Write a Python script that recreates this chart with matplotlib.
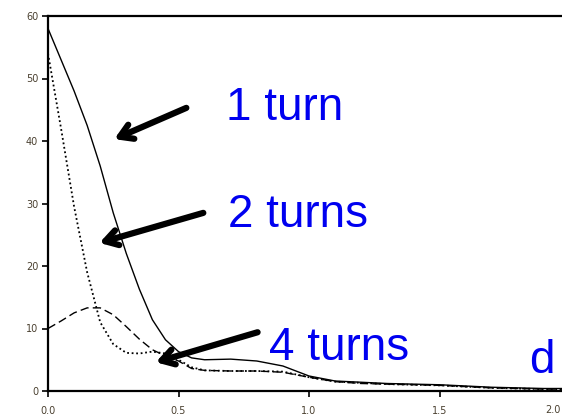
import numpy as np
import matplotlib.pyplot as plt

# distance grid and field curves
x_vals = [0.0, 0.05, 0.1, 0.15, 0.2, 0.25, 0.3, 0.35, 0.4, 0.45, 0.5, 0.55, 0.6,
          0.7, 0.8, 0.9, 1.0, 1.1, 1.2, 1.3, 1.4, 1.5, 1.6, 1.7, 1.8, 1.9, 2.0]
one_turn = [58, 53, 48, 42.5, 36, 28.5, 22, 16.3, 11.4, 8.2, 6.3, 5.3, 5.0,
            5.1, 4.8, 4.0, 2.4, 1.6, 1.4, 1.2, 1.1, 1.0, 0.8, 0.6, 0.5, 0.4, 0.4]
two_turns = [54, 42, 29.5, 19.0, 11.0, 7.5, 6.1, 6.0, 6.3, 6.0, 5.0, 3.8, 3.3,
             3.2, 3.2, 3.1, 2.2, 1.5, 1.3, 1.1, 1.0, 0.9, 0.7, 0.5, 0.4, 0.3, 0.3]
four_turns = [10, 11.2, 12.5, 13.3, 13.3, 12.2, 10.3, 8.3, 6.6, 5.6, 4.8, 3.6, 3.3,
              3.2, 3.2, 3.0, 2.2, 1.5, 1.2, 1.1, 1.0, 0.9, 0.7, 0.5, 0.4, 0.3, 0.3]
x_ticks = [0.0, 0.5, 1.0, 1.5, 2.0]
y_ticks = [0, 10, 20, 30, 40, 50, 60]

# labels: (text, x, y) and arrows: (tail, tip)
labels = [("1 turn", 0.682, 43.4), ("2 turns", 0.689, 26.2), ("4 turns", 0.848, 5.0), ("d", 1.845, 2.9)]
arrows = [((0.530, 45.3), (0.254, 40.3)),
          ((0.595, 28.5), (0.197, 23.7)),
          ((0.803, 9.4), (0.413, 4.6))]

tick_color = "#4a4030"

fig = plt.figure(figsize=(5.62, 4.17), dpi=100)
ax = fig.add_axes([48 / 562, 26 / 417, 522 / 562, 375 / 417])

ax.plot(x_vals, one_turn, color="black", linewidth=1.0, linestyle="-")
ax.plot(x_vals, two_turns, color="black", linewidth=1.3, linestyle=(0, (1, 1.5)))
ax.plot(x_vals, four_turns, color="black", linewidth=1.0, linestyle=(0, (6, 3)))

ax.set_xlim(0, 2.0)
ax.set_ylim(0, 60)
ax.set_xticks(x_ticks)
# the last tick sits just past the figure edge, so its label is drawn separately
ax.set_xticklabels([f"{t:.1f}" for t in x_ticks[:-1]] + [""])
ax.annotate(f"{x_ticks[-1]:.1f}", xy=(x_ticks[-1], 0), xycoords=("data", "axes fraction"),
            xytext=(-7, -10), textcoords="offset points", ha="right", va="top",
            fontsize=7, color=tick_color, annotation_clip=False)
ax.set_yticks(y_ticks)
ax.tick_params(direction="out", length=4, width=1.2, labelsize=7, labelcolor=tick_color, pad=3)
ax.tick_params(axis="x", pad=7)

for side in ["left", "bottom", "top"]:
    ax.spines[side].set_linewidth(1.6)
ax.spines["right"].set_visible(False)

for text, tx, ty in labels:
    ax.text(tx, ty, text, color="#0000f0", fontsize=33, family="Liberation Sans",
            va="baseline", ha="left", clip_on=False)

for tail, tip in arrows:
    ax.annotate("", xy=tip, xytext=tail,
                arrowprops=dict(arrowstyle="->,head_length=0.9,head_width=0.55",
                                color="black", lw=4.5, shrinkA=0, shrinkB=0))

fig.savefig("out.png", dpi=100)
